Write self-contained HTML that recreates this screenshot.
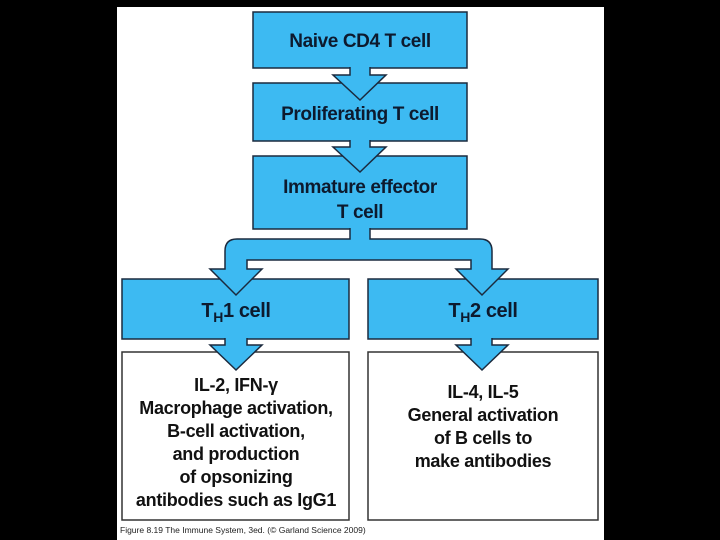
<!DOCTYPE html>
<html><head><style>
html,body{margin:0;padding:0;background:#000;}
body{width:720px;height:540px;position:relative;overflow:hidden;font-family:"Liberation Sans",sans-serif;}
</style></head><body>
<svg width="720" height="540" xmlns="http://www.w3.org/2000/svg" style="position:absolute;left:0;top:0">
<rect x="117" y="7" width="487" height="533" fill="#fff"/>
<g fill="#3dbaf2" stroke="#1b2a3e" stroke-width="1.5">
<rect x="253" y="12" width="214" height="56"/>
<rect x="253" y="83" width="214" height="58"/>
<rect x="253" y="156" width="214" height="73"/>
<rect x="122" y="279" width="227" height="60"/>
<rect x="368" y="279" width="230" height="60"/>
</g>
<g fill="#fff" stroke="#333" stroke-width="1.5">
<rect x="122" y="352" width="227" height="168"/>
<rect x="368" y="352" width="230" height="168"/>
</g>
<g fill="#3dbaf2" stroke="#1b2a3e" stroke-width="1.5" stroke-linejoin="miter">
<path d="M350,67 L350,75 L333,75 L360,100 L386,75 L370,75 L370,67"/>
<path d="M350,140 L350,147 L333,147 L360,172 L386,147 L370,147 L370,140"/>
<path d="M350,228 L350,239 L237,239 Q225,239 225,251 L225,269 L210,269 L236,295 L262,269 L247,269 L247,260 L471,260 L471,269 L456,269 L482,295 L508,269 L492,269 L492,251 Q492,239 480,239 L370,239 L370,228"/>
<path d="M225,338 L225,345 L210,345 L236,370 L262,345 L247,345 L247,338"/>
<path d="M471,338 L471,345 L456,345 L482,370 L508,345 L492,345 L492,338"/>
</g>
<g fill="#0d1a2e" font-weight="bold" font-size="19" text-anchor="middle" letter-spacing="-0.4">
<text x="360" y="47">Naive CD4 T cell</text>
<text x="360" y="120">Proliferating T cell</text>
<text x="360" y="193">Immature effector</text>
<text x="360" y="218">T cell</text>
<text x="236" y="317" font-size="20">T<tspan font-size="14" dy="5">H</tspan><tspan dy="-5">1 cell</tspan></text>
<text x="483" y="317" font-size="20">T<tspan font-size="14" dy="5">H</tspan><tspan dy="-5">2 cell</tspan></text>
</g>
<g fill="#111" font-weight="bold" font-size="18" text-anchor="middle" letter-spacing="-0.3">
<text x="236" y="391">IL-2, IFN-γ</text>
<text x="236" y="414">Macrophage activation,</text>
<text x="236" y="437">B-cell activation,</text>
<text x="236" y="460">and production</text>
<text x="236" y="483">of opsonizing</text>
<text x="236" y="506">antibodies such as IgG1</text>
<text x="483" y="398">IL-4, IL-5</text>
<text x="483" y="421">General activation</text>
<text x="483" y="444">of B cells to</text>
<text x="483" y="467">make antibodies</text>
</g>
<text x="120" y="533" font-size="8.5" fill="#222">Figure 8.19 The Immune System, 3ed. (© Garland Science 2009)</text>
</svg>
</body></html>
